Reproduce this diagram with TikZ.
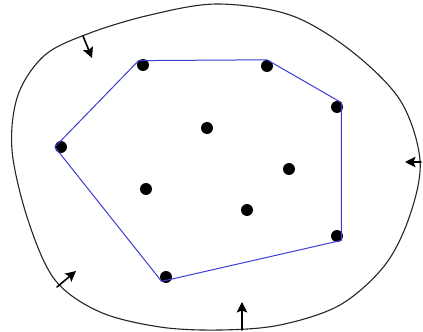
\documentclass[tikz,border=0pt]{standalone}
\usetikzlibrary{arrows.meta}
\definecolor{HullBlue}{RGB}{60,60,215}

\begin{document}
\begin{tikzpicture}[x=1bp,y=1bp,line cap=round,line join=round]
  \path[use as bounding box] (0,0) rectangle (423,332);
  \fill[white] (0,0) rectangle (423,332);

  \tikzset{
    pt/.style={circle,fill=black,inner sep=0pt,minimum size=12bp},
    hull/.style={line width=1bp,draw=HullBlue},
    rubber/.style={line width=1.1bp,draw=black!85},
    push/.style={-{Stealth[length=10.5bp,width=10.5bp,inset=2bp]},line width=1.6bp,draw=black},
  }

  % Outer band
  \draw[rubber] plot[smooth cycle,tension=0.55] coordinates {
    (217,328) (290,317) (350,282) (400,232) (420,172) (410,117)
    (385,67) (340,27) (280,7) (220,2) (160,5) (100,20)
    (55,52) (28,112) (12,182) (18,237) (45,277) (90,299) (150,317)};

  % Points
  \node[pt] (p1) at (143,267) {};
  \node[pt] (p2) at (267,266) {};
  \node[pt] (p3) at (337,225) {};
  \node[pt] (p4) at (61,185) {};
  \node[pt] (p5) at (207,204) {};
  \node[pt] (p6) at (289,163) {};
  \node[pt] (p7) at (146,143) {};
  \node[pt] (p8) at (247,122) {};
  \node[pt] (p9) at (337,96) {};
  \node[pt] (p10) at (166,55) {};

  % Hull
  \draw[hull] (p1.north west) -- (p2.north) -- (p3.north east)
    -- (p9.south east) -- (p10.south west) -- (p4.west) -- cycle;

  % Shrinking arrows
  \coordinate (t1) at (83,296);  \coordinate (h1) at (92,274);
  \coordinate (t2) at (421,170); \coordinate (h2) at (405,170);
  \coordinate (t3) at (57,45);   \coordinate (h3) at (76,61);
  \coordinate (t4) at (242,2);   \coordinate (h4) at (242,30);
  \foreach \i in {1,...,4} {
    \draw[push] (t\i) -- (h\i);
  }

\end{tikzpicture}
\end{document}
